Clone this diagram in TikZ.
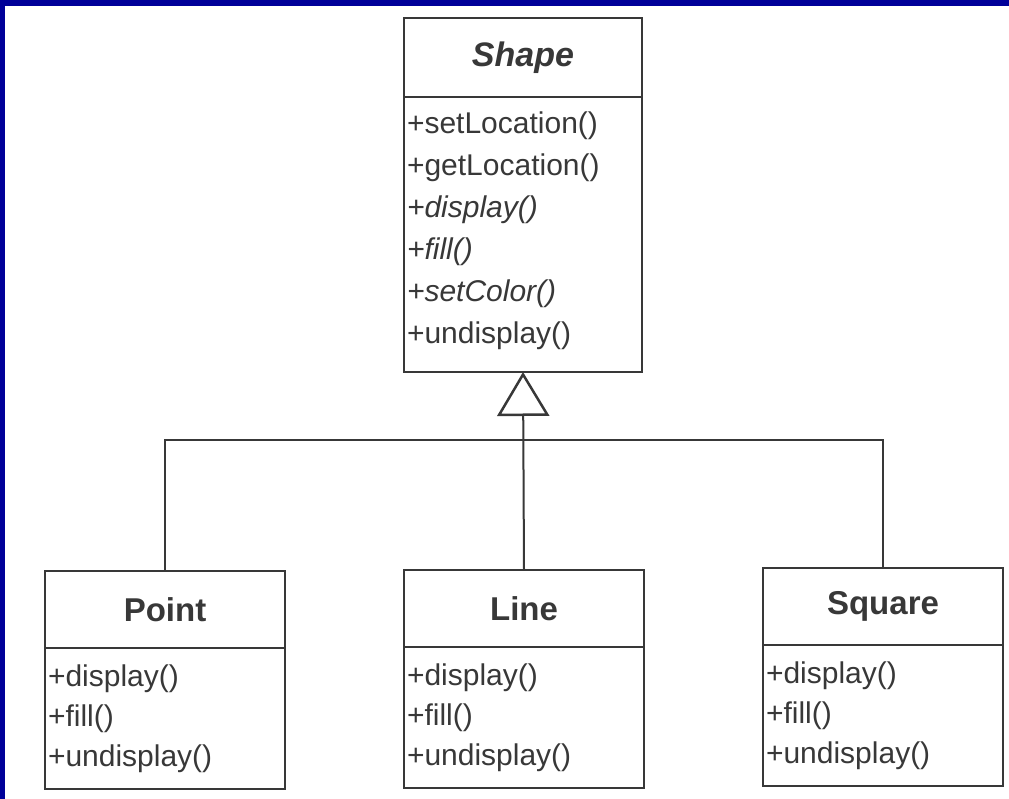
\documentclass[tikz,border=0pt]{standalone}
\usepackage{fontspec}
\setmainfont{Liberation Sans}
\usetikzlibrary{positioning,arrows.meta}
\definecolor{cadre}{HTML}{000099}
\definecolor{trait}{HTML}{383838}
\tikzset{
  titre/.style={draw=trait, line width=2.5pt, minimum width=240pt, minimum height=77pt,
    inner sep=0pt, outer sep=0pt, text=trait, font=\fontsize{33}{38}\selectfont\bfseries},
  methodes/.style={draw=trait, line width=2.5pt, minimum width=240pt, text width=234pt,
    inner xsep=3pt, inner ysep=0pt, outer sep=0pt, align=left, text=trait,
    font=\fontsize{30}{40}\selectfont}
}
\begin{document}
\begin{tikzpicture}[x=1pt,y=1pt]
    \useasboundingbox (0,0) rectangle (1009,-799);
    \fill[cadre] (0,0) rectangle (1009,-6); %bande haut
    \fill[cadre] (0,0) rectangle (5,-799); %bande gauche

    \node[titre, minimum width=238pt, minimum height=79pt, font=\fontsize{34}{38}\selectfont\bfseries\itshape] (shape) at (523,-57.5) {Shape}; %classe Shape
    \node[methodes, below=0pt of shape, minimum width=238pt, text width=232pt, minimum height=275pt, text height=15pt,
      font=\fontsize{30}{42}\selectfont] (shapeops) {+setLocation()\\ +getLocation()\\ \textit{+display()}\\ \textit{+fill()}\\ \textit{+setColor()}\\ +undisplay()};

    \node[titre] (point) at (165,-609.5) {Point}; %classe Point
    \node[methodes, below=0pt of point, minimum height=141pt] (pointops) {+display()\\ +fill()\\ +undisplay()};

    \node[titre] (line) at (524,-608.5) {Line}; %classe Line
    \node[methodes, below=0pt of line, minimum height=141pt] (lineops) {+display()\\ +fill()\\ +undisplay()};

    \node[titre] (square) at (883,-606.5) {Square}; %classe Square
    \node[methodes, below=0pt of square, minimum height=141pt] (squareops) {+display()\\ +fill()\\ +undisplay()};

    \coordinate (bus) at (524,-440); %barre horizontale

    \draw[trait, line width=2pt] (point.north) |- (bus) -| (square.north);
    \draw[trait, line width=2pt, -{Triangle[open, length=44pt, width=52pt, line width=2.5pt]}] (line.north) -- (shapeops.south); %heritage
\end{tikzpicture}
\end{document}
